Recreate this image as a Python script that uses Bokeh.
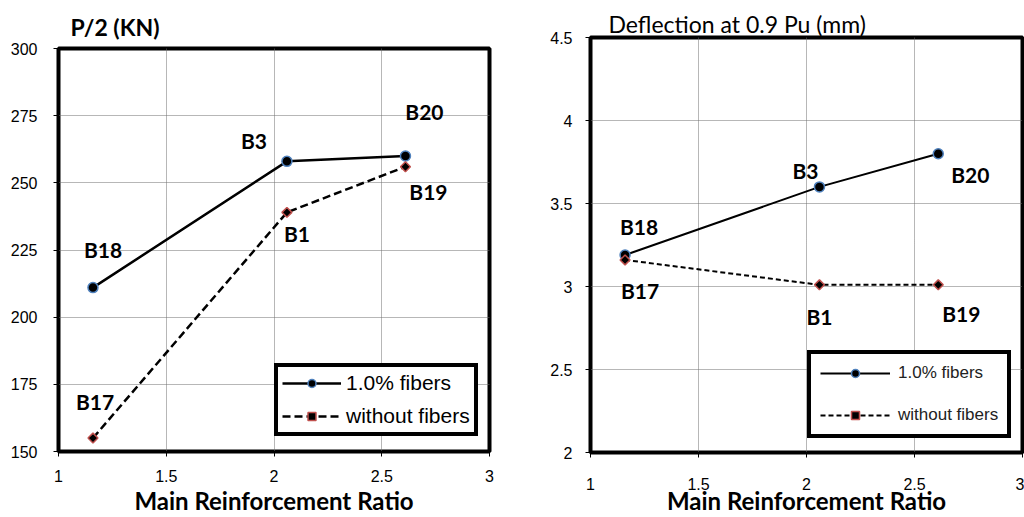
from bokeh.plotting import figure
from bokeh.layouts import row
from bokeh.models import (Range1d, Legend, LegendItem, CustomJSTickFormatter,
                          FixedTicker, ColumnDataSource, Title)
from bokeh.core.properties import value
from bokeh.embed import file_html
from bokeh.resources import INLINE

# ---------------- data ----------------
ratio = [1.16, 2.06, 2.61]
load_fibers = [211, 258, 260]
load_plain = [155, 239, 256]
defl_fibers = [3.19, 3.60, 3.80]
defl_plain = [3.16, 3.01, 3.01]
names_fibers = ["B18", "B3", "B20"]
names_plain = ["B17", "B1", "B19"]
series_names = ["1.0% fibers", "without fibers"]
x_ticks = [1, 1.5, 2, 2.5, 3]
load_ticks = [150, 175, 200, 225, 250, 275, 300]
defl_ticks = [2, 2.5, 3, 3.5, 4, 4.5]
x_title = "Main Reinforcement Ratio"
left_title = "P/2  (KN)"
right_title = "Deflection at 0.9 Pu (mm)"

# label offsets in pixels (dx, dy screen; positive dy = down)
left_off_f = [(10, -38), (-33, -21), (19, -44)]
left_off_p = [(2, -37), (10, 21), (23, 25)]
right_off_f = [(14, -28), (-14, -16), (32, 21)]
right_off_p = [(15, 31), (0, 32), (23, 29)]

fmt = CustomJSTickFormatter(code="return String(tick)")
TICK_FONT = "Liberation Sans"
BOLD_FONT = "Lato"


def base_fig(width, mbl, mbr, mbt, yr, yticks, title, title_style, title_size,
             title_offset, title_standoff):
    p = figure(width=width, height=517, x_range=Range1d(1, 3), y_range=Range1d(*yr),
               output_backend="svg", toolbar_location=None,
               min_border_left=mbl, min_border_right=mbr, min_border_top=mbt,
               min_border_bottom=64)
    p.frame_align = False
    p.title = Title(text=title, align="left", offset=title_offset, standoff=title_standoff,
                    text_font=BOLD_FONT, text_font_style=title_style,
                    text_font_size=title_size, text_color="black")
    p.outline_line_color = "black"
    p.outline_line_width = 4
    p.outline_line_alpha = 1
    for ax in (p.xaxis[0], p.yaxis[0]):
        ax.axis_line_color = "black"
        ax.axis_line_width = 1
        ax.major_tick_out = 5
        ax.major_tick_in = 0
        ax.major_tick_line_color = "black"
        ax.minor_tick_line_color = None
        ax.major_label_text_font = TICK_FONT
        ax.major_label_text_font_size = "16px"
        ax.major_label_text_color = "black"
        ax.formatter = fmt
    p.xaxis[0].ticker = FixedTicker(ticks=x_ticks)
    p.yaxis[0].ticker = FixedTicker(ticks=yticks)
    p.xaxis[0].axis_label = x_title
    p.xaxis[0].axis_label_text_font = BOLD_FONT
    p.xaxis[0].axis_label_text_font_style = "bold"
    p.xaxis[0].axis_label_text_font_size = "24px"
    p.xaxis[0].axis_label_text_color = "black"
    for g in (p.xgrid[0], p.ygrid[0]):
        g.grid_line_color = "#6f6f6f"
        g.grid_line_dash = "1 1"
        g.grid_line_width = 1
    return p


def add_series(p, yf, yp, lw, dash, csize, dsize):
    l1 = p.line(ratio, yf, line_color="black", line_width=lw)
    s1 = p.scatter(ratio, yf, marker="circle", size=csize, fill_color="black",
                   line_color="#4f81bd", line_width=1.5)
    l2 = p.line(ratio, yp, line_color="black", line_width=lw, line_dash=dash)
    s2 = p.scatter(ratio, yp, marker="square", angle=0.785398, size=dsize,
                   fill_color="black", line_color="#c0504d", line_width=1.5)
    return [l1, s1], [l2, s2]


def add_names(p, ys, names, offs):
    src = ColumnDataSource(dict(x=ratio, y=ys, t=names,
                                dx=[o[0] for o in offs], dy=[o[1] for o in offs]))
    p.text(x="x", y="y", text="t", x_offset="dx", y_offset="dy", source=src,
           text_align="center", text_baseline="middle", text_font=value(BOLD_FONT),
           text_font_style="bold", text_font_size="21px", text_color="black")


# ---------------- left chart ----------------
p1 = base_fig(512, 58, 23, 48, (150, 300), load_ticks, left_title, "bold", "23px", 12, 16)
p1.yaxis[0].major_label_standoff = 16
p1.xaxis[0].major_label_standoff = 13
p1.xaxis[0].axis_label_standoff = 1
r1, r2 = add_series(p1, load_fibers, load_plain, 2.5, "8 4", 10, 7)
add_names(p1, load_fibers, names_fibers, left_off_f)
add_names(p1, load_plain, names_plain, left_off_p)
leg1 = Legend(items=[LegendItem(label=series_names[0], renderers=r1),
                     LegendItem(label=series_names[1], renderers=r2)],
              location=(216, 15), glyph_width=59, glyph_height=20, label_standoff=5,
              padding=4, spacing=9, label_text_font=TICK_FONT, label_text_color="black",
              label_text_font_size="21px", border_line_width=4, border_line_color="black",
              border_line_alpha=1, background_fill_color="white", background_fill_alpha=1,
              margin=0)
p1.add_layout(leg1)

# ---------------- right chart ----------------
p2 = base_fig(512, 78, 2, 37, (2, 4.5), defl_ticks, right_title, "normal", "23px", 18, 0)
p2.yaxis[0].major_label_standoff = 13
p2.xaxis[0].major_label_standoff = 20
p2.xaxis[0].axis_label_standoff = -7
q1, q2 = add_series(p2, defl_fibers, defl_plain, 2, "5 3", 10, 7)
add_names(p2, defl_fibers, names_fibers, right_off_f)
add_names(p2, defl_plain, names_plain, right_off_p)
leg2 = Legend(items=[LegendItem(label=series_names[0], renderers=q1),
                     LegendItem(label=series_names[1], renderers=q2)],
              location=(217, 14), glyph_width=70, glyph_height=20, label_standoff=8,
              padding=9, spacing=22, label_text_font=TICK_FONT, label_text_color="#222222",
              label_text_font_size="17px", border_line_width=4, border_line_color="black",
              border_line_alpha=1, background_fill_color="white", background_fill_alpha=1,
              margin=0)
p2.add_layout(leg2)

layout = row(p1, p2, spacing=0)
open("out.html", "w").write(file_html(layout, INLINE))
